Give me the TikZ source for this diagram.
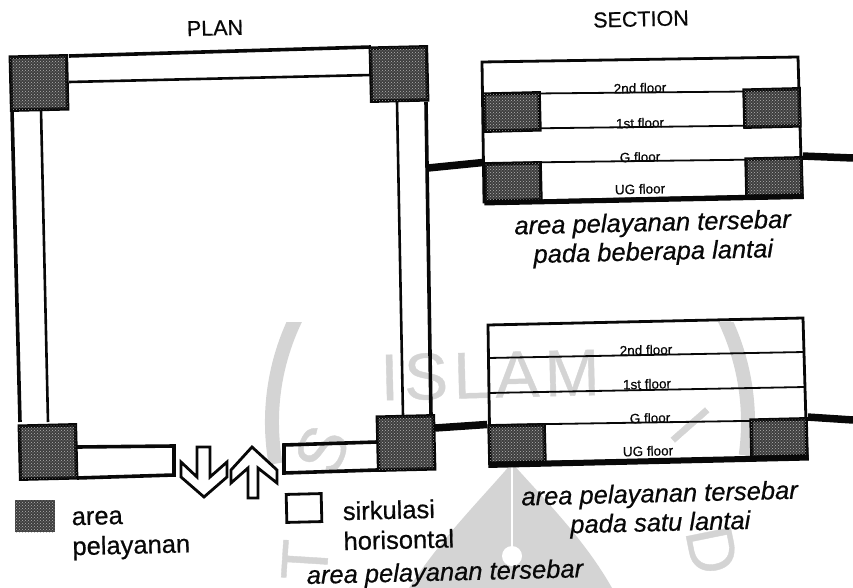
\documentclass[tikz,border=0pt]{standalone}
\usepackage{xcolor}
\usepackage{fontspec}
\setmainfont{Liberation Sans}[FakeBold=0.6]
\usetikzlibrary{patterns, positioning}
\definecolor{wallblack}{RGB}{8, 8, 8}
\definecolor{servicegray}{RGB}{62, 62, 62}
\definecolor{stampgray}{RGB}{212, 212, 212}

\begin{document}
\begin{tikzpicture}[
    x=1pt, y=-1pt,
    every node/.style={rotate=1.4, text=wallblack},
    wall/.style={draw=wallblack, line width=3.6pt},
    innerwall/.style={draw=wallblack, line width=2.6pt},
    sectionwall/.style={draw=wallblack, line width=2.8pt},
    slab/.style={draw=wallblack, line width=1.8pt},
    beam/.style={draw=wallblack, line width=7.5pt},
    service/.style={draw=wallblack, line width=3.5pt, inner sep=0pt, fill=servicegray,
                    postaction={pattern=crosshatch dots, pattern color=white!70!black}},
    planblock/.style={service, minimum width=56pt, minimum height=53pt},
    sectionblock/.style={service, minimum width=55pt, minimum height=37pt},
    floorname/.style={font=\fontsize{13.5}{14}\selectfont, inner sep=0pt},
    heading/.style={font=\fontsize{21.5}{24}\selectfont, inner sep=0pt},
    caption/.style={font=\fontsize{25.5}{29}\selectfont\itshape, align=center, inner sep=0pt},
    legend/.style={font=\fontsize{25.5}{30}\selectfont, align=left, inner sep=0pt},
    stamp/.style={font=\fontsize{66}{66}\selectfont, text=stampgray, inner sep=0pt},
    shaft/.style={draw=wallblack, line width=2.8pt, fill=white, line join=miter}
]
    \useasboundingbox (0,0) rectangle (853,588);

    % watermark
    \begin{scope}
        \clip (250,322) rectangle (853,588);
        \draw[stampgray, line width=14pt] (510,505) ++(190:238) arc[start angle=190, end angle=-8, radius=238, y radius=-238];
    \end{scope}
    \node[stamp] (stampname) at (490,375) {\addfontfeature{LetterSpace=8}ISLAM};
    \node[stamp, rotate=65] (stampS) at (322,450) {S};
    \node[stamp, rotate=85] (stampT) at (305,560) {T};
    \node[stamp, rotate=-50] (stampI) at (690,425) {I};
    \node[stamp, rotate=-80] (stampD) at (712,550) {D};
    \fill[stampgray] (409,588) .. controls (440,540) and (480,500) .. (512,463) .. controls (545,500) and (585,540) .. (612,588) -- cycle;
    \draw[white, line width=1.5pt] (512,464) -- (512,553);
    \fill[white] (512,556) circle[radius=10];

    % plan
    \draw[wall] (69,56) -- (371,47);
    \draw[innerwall] (69,82) -- (371,75);
    \draw[wall] (12,110) -- (20,422);
    \draw[innerwall] (41,110) -- (48,422);
    \draw[innerwall] (397,102) -- (403,416);
    \draw[wall] (426,102) -- (431,416);
    \draw[wall] (77,447) -- (174,446) -- (174,475) -- (77,478);
    \draw[wall] (377,442) -- (284,445) -- (284,473) -- (377,470);
    \node[planblock] (topleft) at (39,83) {};
    \node[planblock] (topright) at (399,74) {};
    \node[planblock] (bottomleft) at (48,452) {};
    \node[planblock] (bottomright) at (406,443) {};
    \node[heading] (plan) at (215,28) {PLAN};

    % entrance arrows
    \draw[shaft] (197,447) -- (197,477) -- (181,462) -- (181,477) -- (204,497) -- (227,477) -- (227,462) -- (210,477) -- (210,447) -- cycle;
    \draw[shaft] (252,447) -- (277,470) -- (277,483) -- (258,468) -- (258,498) -- (248,498) -- (248,468) -- (231,483) -- (231,470) -- cycle;

    % section with scattered service
    \draw[sectionwall] (482,62) -- (798,57) -- (802,195) -- (484,202) -- cycle;
    \draw[slab] (483,94) -- (798,91);
    \draw[slab] (483,129) -- (800,125);
    \draw[slab] (484,163) -- (801,159);
    \node[sectionblock] (secone) at (512,112) {};
    \node[sectionblock] (sectwo) at (772,108) {};
    \node[sectionblock] (secthree) at (513,182) {};
    \node[sectionblock] (secfour) at (774,177) {};
    \draw[sectionwall, line width=5pt] (secthree.south west) -- (secfour.south east);
    \node[floorname] (upsecond) at (640,88) {2nd floor};
    \node[floorname] (upfirst) at (640,123) {1st floor};
    \node[floorname] (upground) at (640,157) {G floor};
    \node[floorname] (upunder) at (640,189) {UG floor};
    \node[heading] (section) at (641,19) {SECTION};
    \node[caption] (upcaption) at (653,239) {area pelayanan tersebar\\pada beberapa lantai};
    \coordinate (upbeamleft) at (428,168);
    \coordinate (upbeamright) at (853,158);
    \draw[beam] (upbeamleft) -- (secthree.north west);
    \draw[beam] (secfour.north east) -- (upbeamright);

    % section with one service floor
    \draw[sectionwall] (488,325) -- (803,318) -- (807,458) -- (490,463) -- cycle;
    \draw[slab] (488,358) -- (804,352);
    \draw[slab] (488,393) -- (805,387);
    \draw[slab] (489,425) -- (806,420);
    \node[sectionblock] (lowleft) at (517,444) {};
    \node[sectionblock] (lowright) at (779,438) {};
    \draw[sectionwall, line width=6pt] (lowleft.south west) -- (lowright.south east);
    \node[floorname] (lowsecond) at (646,350) {2nd floor};
    \node[floorname] (lowfirst) at (647,384) {1st floor};
    \node[floorname] (lowground) at (650,418) {G floor};
    \node[floorname] (lowunder) at (648,451) {UG floor};
    \node[caption] (lowcaption) at (660,510) {area pelayanan tersebar\\pada satu lantai};
    \coordinate (lowbeamleft) at (435,428);
    \coordinate (lowbeamright) at (853,420);
    \draw[beam] (lowbeamleft) -- (lowleft.north west);
    \draw[beam] (lowright.north east) -- (lowbeamright);

    % legend
    \node[service, draw=none, minimum width=40pt, minimum height=32pt, rotate=-1.4] (keyservice) at (35,516) {};
    \node[legend, anchor=west] (keyservicetext) at (72,536) {area\\pelayanan};
    \node[draw=wallblack, line width=2.8pt, minimum width=35pt, minimum height=28pt, inner sep=0pt] (keywalk) at (304,508) {};
    \node[legend, anchor=west] (keywalktext) at (343,526) {sirkulasi\\horisontal};
    \node[caption] (plancaption) at (445,574) {area pelayanan tersebar};
\end{tikzpicture}
\end{document}
